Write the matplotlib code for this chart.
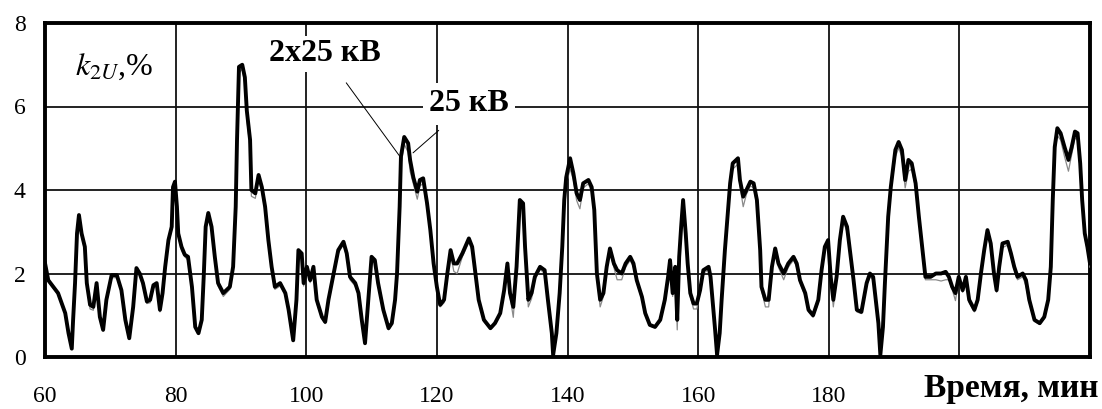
import matplotlib
matplotlib.use("Agg")
import matplotlib.pyplot as plt

plt.rcParams['font.family'] = ['Liberation Serif', 'DejaVu Serif']
plt.rcParams['mathtext.fontset'] = 'stix'

# время, мин
t = [60.0, 60.5, 62.0, 63.1, 63.6, 64.1, 64.3, 64.6, 64.9, 65.2, 65.6, 66.1, 66.4, 66.9, 67.4,
     67.9, 68.4, 68.9, 69.4, 70.2, 71.0, 71.7, 72.3, 72.9, 73.5, 74.0, 74.5, 75.0, 75.6, 76.1,
     76.6, 77.1, 77.6, 78.0, 78.4, 78.9, 79.4, 79.6, 79.9, 80.2, 80.4, 80.9, 81.4, 81.9, 82.5,
     83.0, 83.5, 84.0, 84.3, 84.6, 85.0, 85.5, 86.0, 86.5, 87.3, 88.3, 88.8, 89.2, 89.4, 89.7,
     90.2, 90.6, 90.9, 91.4, 91.6, 92.2, 92.7, 93.2, 93.7, 94.2, 94.7, 95.2, 96.0, 96.8, 97.3,
     98.0, 98.5, 98.8, 99.3, 99.6, 100.1, 100.6, 101.1, 101.6, 102.4, 102.9, 103.4, 104.2, 104.9, 105.7,
     106.2, 106.7, 107.5, 108.0, 108.5, 109.0, 109.5, 110.0, 110.5, 111.0, 111.8, 112.6, 113.1, 113.6, 113.9,
     114.3, 114.5, 115.0, 115.6, 115.9, 116.4, 117.0, 117.4, 117.9, 118.5, 119.0, 119.5, 120.0, 120.5, 121.1,
     121.6, 122.1, 122.6, 123.1, 123.9, 124.9, 125.4, 125.9, 126.4, 127.2, 128.2, 128.9, 129.7, 130.3, 130.8,
     131.2, 131.7, 132.2, 132.7, 133.2, 133.5, 134.0, 134.5, 135.0, 135.8, 136.5, 137.0, 137.6, 137.8, 138.3,
     138.8, 139.2, 139.5, 139.8, 140.4, 140.9, 141.4, 141.9, 142.4, 143.2, 143.7, 144.1, 144.5, 145.0, 145.5,
     146.0, 146.5, 147.1, 147.6, 148.3, 148.9, 149.6, 150.1, 150.6, 151.4, 151.9, 152.6, 153.4, 154.2, 154.9,
     155.4, 155.7, 156.1, 156.5, 156.8, 157.1, 157.4, 157.7, 158.1, 158.4, 158.8, 159.3, 159.8, 160.3, 160.8,
     161.6, 161.9, 162.2, 162.6, 162.9, 163.3, 163.6, 164.1, 164.5, 164.9, 165.3, 166.1, 166.4, 166.9, 167.4,
     168.0, 168.5, 169.0, 169.5, 169.7, 170.3, 170.8, 171.3, 171.8, 172.3, 173.1, 173.8, 174.6, 175.1, 175.6,
     176.4, 176.9, 177.6, 178.4, 178.9, 179.4, 179.9, 180.3, 180.7, 181.2, 181.7, 182.2, 182.8, 183.3, 183.8,
     184.3, 185.0, 185.8, 186.3, 186.8, 187.2, 187.6, 187.9, 188.3, 188.6, 189.1, 189.5, 190.2, 190.7, 191.2,
     191.7, 192.2, 192.7, 193.3, 193.8, 194.3, 194.8, 195.6, 196.4, 197.2, 197.9, 198.4, 198.9, 199.4, 199.9,
     200.5, 201.0, 201.5, 202.3, 202.8, 203.3, 203.8, 204.3, 204.8, 205.3, 205.7, 206.1, 206.6, 207.4, 207.9,
     208.4, 208.9, 209.7, 210.2, 210.7, 211.5, 212.3, 213.0, 213.6, 214.0, 214.3, 214.6, 215.0, 215.5, 216.1,
     216.7, 217.2, 217.7, 218.1, 218.5, 218.8, 219.2, 219.6, 220.0]

# k2U, %  - система 2x25 кВ
k_2x25 = [2.25, 1.84, 1.53, 1.05, 0.57, 0.2, 0.88, 1.77, 2.96, 3.4, 2.96, 2.64, 1.77, 1.25, 1.2,
          1.77, 0.96, 0.65, 1.37, 1.96, 1.96, 1.6, 0.89, 0.45, 1.2, 2.13, 2.0, 1.77, 1.33, 1.37,
          1.72, 1.77, 1.13, 1.53, 2.16, 2.8, 3.12, 4.07, 4.2, 3.6, 2.96, 2.64, 2.45, 2.4, 1.68,
          0.72, 0.57, 0.89, 1.92, 3.12, 3.45, 3.12, 2.4, 1.77, 1.53, 1.68, 2.16, 3.6, 5.2, 6.95,
          7.0, 6.7, 5.9, 5.2, 4.0, 3.92, 4.36, 4.07, 3.6, 2.8, 2.16, 1.68, 1.77, 1.53, 1.13,
          0.4, 1.37, 2.56, 2.48, 1.77, 2.16, 1.84, 2.16, 1.37, 0.96, 0.84, 1.37, 2.0, 2.56, 2.76,
          2.48, 1.92, 1.77, 1.53, 0.89, 0.33, 1.37, 2.4, 2.32, 1.77, 1.13, 0.69, 0.81, 1.37, 2.0,
          3.6, 4.8, 5.27, 5.12, 4.72, 4.3, 3.96, 4.24, 4.28, 3.68, 3.04, 2.24, 1.68, 1.25, 1.37,
          2.0, 2.56, 2.24, 2.24, 2.48, 2.84, 2.64, 2.0, 1.37, 0.89, 0.69, 0.81, 1.05, 1.6, 2.24,
          1.53, 1.2, 2.16, 3.76, 3.68, 2.64, 1.37, 1.53, 1.92, 2.16, 2.08, 1.37, 0.57, 0.05, 0.57,
          1.53, 2.64, 3.76, 4.3, 4.76, 4.4, 3.92, 3.76, 4.16, 4.24, 4.07, 3.52, 2.0, 1.37, 1.53,
          2.16, 2.6, 2.24, 2.08, 2.0, 2.24, 2.4, 2.24, 1.84, 1.44, 1.05, 0.77, 0.72, 0.89, 1.37,
          1.92, 2.32, 1.53, 2.16, 0.89, 2.4, 3.12, 3.76, 2.96, 2.24, 1.53, 1.28, 1.28, 1.6, 2.08,
          2.16, 1.92, 1.37, 0.65, 0.05, 0.57, 1.37, 2.56, 3.36, 4.16, 4.64, 4.76, 4.24, 3.84, 4.0,
          4.2, 4.16, 3.76, 2.56, 1.68, 1.37, 1.37, 2.16, 2.6, 2.24, 2.0, 2.24, 2.4, 2.24, 1.84,
          1.53, 1.13, 1.0, 1.37, 2.08, 2.64, 2.8, 1.92, 1.37, 1.92, 2.8, 3.36, 3.12, 2.48, 1.84,
          1.13, 1.08, 1.77, 2.0, 1.92, 1.37, 0.81, 0.05, 0.72, 1.77, 3.36, 4.07, 4.96, 5.15, 4.96,
          4.24, 4.72, 4.64, 4.16, 3.36, 2.64, 1.92, 1.92, 2.0, 2.0, 2.04, 1.92, 1.68, 1.53, 1.92,
          1.6, 1.92, 1.37, 1.13, 1.37, 2.0, 2.56, 3.04, 2.72, 2.0, 1.6, 2.16, 2.72, 2.76, 2.48,
          2.16, 1.92, 2.0, 1.84, 1.37, 0.89, 0.81, 0.96, 1.37, 2.16, 3.76, 5.03, 5.48, 5.36, 5.03,
          4.72, 5.03, 5.4, 5.36, 4.64, 3.76, 2.96, 2.64, 2.24]

# k2U, %  - система 25 кВ
k_25 = [2.2, 1.8, 1.5, 1.0, 0.55, 0.2, 0.85, 1.7, 2.9, 3.3, 2.9, 2.55, 1.7, 1.15, 1.12,
        1.7, 0.92, 0.62, 1.3, 1.9, 1.9, 1.55, 0.85, 0.42, 1.15, 2.05, 1.95, 1.7, 1.28, 1.3,
        1.65, 1.7, 1.08, 1.48, 2.1, 2.7, 3.05, 3.95, 4.1, 3.5, 2.9, 2.55, 2.4, 2.32, 1.6,
        0.7, 0.55, 0.85, 1.85, 3.05, 3.35, 3.05, 2.32, 1.7, 1.45, 1.62, 2.1, 3.5, 5.05, 6.8,
        6.9, 6.55, 5.7, 5.0, 3.85, 3.8, 4.25, 3.95, 3.5, 2.7, 2.1, 1.62, 1.7, 1.48, 1.08,
        0.38, 1.3, 2.48, 2.4, 1.7, 2.1, 1.78, 2.1, 1.3, 0.92, 0.8, 1.3, 1.95, 2.48, 2.7,
        2.4, 1.85, 1.7, 1.48, 0.85, 0.32, 1.3, 2.32, 2.25, 1.7, 1.08, 0.65, 0.78, 1.3, 1.95,
        3.5, 4.6, 5.1, 4.9, 4.45, 4.15, 3.78, 4.1, 4.15, 3.55, 2.95, 2.15, 1.6, 1.2, 1.3,
        1.95, 2.45, 2.05, 2.0, 2.4, 2.75, 2.55, 1.92, 1.3, 0.85, 0.66, 0.78, 1.0, 1.55, 2.15,
        1.45, 0.95, 2.05, 3.65, 3.55, 2.55, 1.2, 1.4, 1.85, 2.1, 2.0, 1.25, 0.55, 0.05, 0.55,
        1.48, 2.55, 3.65, 4.15, 4.5, 4.25, 3.75, 3.55, 4.05, 4.15, 3.95, 3.4, 1.92, 1.2, 1.45,
        2.1, 2.5, 2.15, 1.85, 1.85, 2.15, 2.32, 2.15, 1.78, 1.38, 1.0, 0.74, 0.7, 0.85, 1.3,
        1.85, 2.25, 1.45, 2.05, 0.65, 2.3, 3.0, 3.6, 2.85, 2.15, 1.45, 1.15, 1.15, 1.55, 2.0,
        2.1, 1.85, 1.3, 0.62, 0.05, 0.55, 1.3, 2.48, 3.25, 4.05, 4.5, 4.62, 4.1, 3.6, 3.9,
        4.1, 4.05, 3.65, 2.48, 1.6, 1.2, 1.2, 2.1, 2.5, 2.15, 1.85, 2.15, 2.32, 2.15, 1.78,
        1.45, 1.08, 0.95, 1.3, 2.0, 2.55, 2.7, 1.85, 1.2, 1.85, 2.7, 3.25, 3.0, 2.4, 1.78,
        1.08, 1.04, 1.7, 1.92, 1.85, 1.3, 0.78, 0.05, 0.7, 1.7, 3.25, 3.95, 4.8, 5.0, 4.8,
        4.05, 4.45, 4.5, 4.05, 3.25, 2.55, 1.85, 1.85, 1.85, 1.82, 1.85, 1.85, 1.62, 1.35, 1.85,
        1.55, 1.85, 1.3, 1.08, 1.3, 1.92, 2.48, 2.95, 2.62, 1.92, 1.55, 2.1, 2.62, 2.68, 2.4,
        2.1, 1.85, 1.92, 1.7, 1.3, 0.85, 0.78, 0.92, 1.3, 2.1, 3.65, 4.9, 5.3, 5.2, 4.8,
        4.45, 4.85, 5.25, 5.2, 4.5, 3.65, 2.85, 2.55, 2.15]

xticks = [60, 80, 100, 120, 140, 160, 180, 200, 220]
xlabels = ['60', '80', '100', '120', '140', '160', '180', '', '']
yticks = [0, 2, 4, 6, 8]

fig = plt.figure(figsize=(11.02, 4.09), dpi=100)
ax = fig.add_axes([45 / 1102, 1 - 357 / 409, 1045 / 1102, 334 / 409])

ax.plot(t, k_25, color='#8a8a8a', lw=0.9, zorder=3)
ax.plot(t, k_2x25, color='black', lw=2.8, zorder=4)

ax.set_xlim(60, 220)
ax.set_ylim(0, 8)
ax.set_xticks(xticks)
ax.set_xticklabels(xlabels)
ax.set_yticks(yticks)
ax.tick_params(length=0, labelsize=17)
ax.tick_params(axis='x', pad=21)
ax.tick_params(axis='y', pad=14)
ax.grid(True, color='#111111', lw=1.3)
ax.set_axisbelow(True)
for s in ax.spines.values():
    s.set_linewidth(2.8)

ax.text(64.6, 6.95, r'$k_{2U}$,%', fontsize=23, ha='left', va='center')

ax.annotate('2x25 кВ', xy=(114.4, 4.79), xytext=(102.9, 7.26),
            fontsize=23, fontweight='bold', ha='center', va='center',
            bbox=dict(boxstyle='square,pad=0.1', fc='white', ec='none'),
            arrowprops=dict(arrowstyle='-', lw=0.7, color='black', shrinkA=10, shrinkB=0),
            zorder=5)
ax.annotate('25 кВ', xy=(116.35, 4.89), xytext=(124.9, 6.06),
            fontsize=23, fontweight='bold', ha='center', va='center',
            bbox=dict(boxstyle='square,pad=0.2', fc='white', ec='none'),
            arrowprops=dict(arrowstyle='-', lw=0.7, color='black', shrinkA=6, shrinkB=0),
            zorder=5)

fig.text(1098 / 1102, 1 - 388 / 409, 'Время, мин', fontsize=24, fontweight='bold',
         ha='right', va='center')

fig.savefig('out.png', dpi=100)
